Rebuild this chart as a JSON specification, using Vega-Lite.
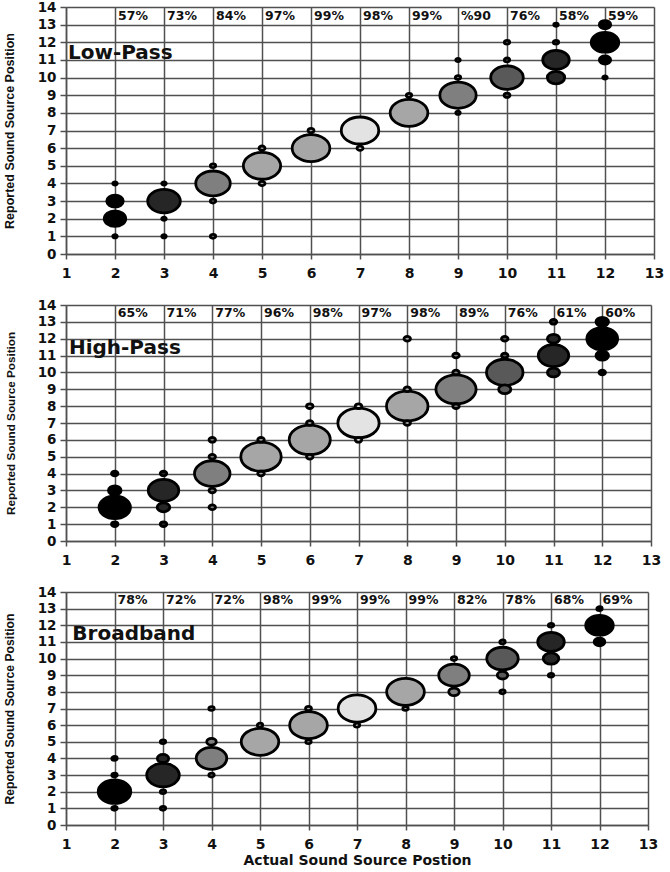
{
  "$schema": "https://vega.github.io/schema/vega-lite/v6.json",
  "background": "white",
  "padding": {"left": 3, "top": 0, "right": 5, "bottom": 0},
  "spacing": 18,
  "datasets": {
    "bubbles": [
      {"panel": "Low-Pass", "actual": 2, "reported": 4, "pct": 1.4},
      {"panel": "Low-Pass", "actual": 2, "reported": 3, "pct": 19},
      {"panel": "Low-Pass", "actual": 2, "reported": 2, "pct": 32},
      {"panel": "Low-Pass", "actual": 2, "reported": 1, "pct": 1.4},
      {"panel": "Low-Pass", "actual": 3, "reported": 4, "pct": 1.4},
      {"panel": "Low-Pass", "actual": 3, "reported": 3, "pct": 74},
      {"panel": "Low-Pass", "actual": 3, "reported": 2, "pct": 1.4},
      {"panel": "Low-Pass", "actual": 3, "reported": 1, "pct": 1.4},
      {"panel": "Low-Pass", "actual": 4, "reported": 5, "pct": 2},
      {"panel": "Low-Pass", "actual": 4, "reported": 4, "pct": 83},
      {"panel": "Low-Pass", "actual": 4, "reported": 3, "pct": 2},
      {"panel": "Low-Pass", "actual": 4, "reported": 1, "pct": 2},
      {"panel": "Low-Pass", "actual": 5, "reported": 6, "pct": 2.5},
      {"panel": "Low-Pass", "actual": 5, "reported": 5, "pct": 97},
      {"panel": "Low-Pass", "actual": 5, "reported": 4, "pct": 2.5},
      {"panel": "Low-Pass", "actual": 6, "reported": 7, "pct": 2.5},
      {"panel": "Low-Pass", "actual": 6, "reported": 6, "pct": 99},
      {"panel": "Low-Pass", "actual": 7, "reported": 7, "pct": 98},
      {"panel": "Low-Pass", "actual": 7, "reported": 6, "pct": 2.5},
      {"panel": "Low-Pass", "actual": 8, "reported": 9, "pct": 2},
      {"panel": "Low-Pass", "actual": 8, "reported": 8, "pct": 99},
      {"panel": "Low-Pass", "actual": 9, "reported": 11, "pct": 1.4},
      {"panel": "Low-Pass", "actual": 9, "reported": 10, "pct": 2},
      {"panel": "Low-Pass", "actual": 9, "reported": 9, "pct": 92},
      {"panel": "Low-Pass", "actual": 9, "reported": 8, "pct": 1.4},
      {"panel": "Low-Pass", "actual": 10, "reported": 12, "pct": 2},
      {"panel": "Low-Pass", "actual": 10, "reported": 11, "pct": 2},
      {"panel": "Low-Pass", "actual": 10, "reported": 10, "pct": 74},
      {"panel": "Low-Pass", "actual": 10, "reported": 9, "pct": 2.5},
      {"panel": "Low-Pass", "actual": 11, "reported": 13, "pct": 1.4},
      {"panel": "Low-Pass", "actual": 11, "reported": 12, "pct": 2},
      {"panel": "Low-Pass", "actual": 11, "reported": 11, "pct": 49},
      {"panel": "Low-Pass", "actual": 11, "reported": 10, "pct": 21},
      {"panel": "Low-Pass", "actual": 12, "reported": 13, "pct": 9},
      {"panel": "Low-Pass", "actual": 12, "reported": 12, "pct": 53},
      {"panel": "Low-Pass", "actual": 12, "reported": 11, "pct": 9},
      {"panel": "Low-Pass", "actual": 12, "reported": 10, "pct": 1.4},

      {"panel": "High-Pass", "actual": 2, "reported": 4, "pct": 2.4},
      {"panel": "High-Pass", "actual": 2, "reported": 3, "pct": 9},
      {"panel": "High-Pass", "actual": 2, "reported": 2, "pct": 56},
      {"panel": "High-Pass", "actual": 2, "reported": 1, "pct": 2.4},
      {"panel": "High-Pass", "actual": 3, "reported": 4, "pct": 2.4},
      {"panel": "High-Pass", "actual": 3, "reported": 3, "pct": 53},
      {"panel": "High-Pass", "actual": 3, "reported": 2, "pct": 9},
      {"panel": "High-Pass", "actual": 3, "reported": 1, "pct": 2.4},
      {"panel": "High-Pass", "actual": 4, "reported": 6, "pct": 2.4},
      {"panel": "High-Pass", "actual": 4, "reported": 5, "pct": 2.4},
      {"panel": "High-Pass", "actual": 4, "reported": 4, "pct": 72},
      {"panel": "High-Pass", "actual": 4, "reported": 3, "pct": 2.4},
      {"panel": "High-Pass", "actual": 4, "reported": 2, "pct": 2.4},
      {"panel": "High-Pass", "actual": 5, "reported": 6, "pct": 2.4},
      {"panel": "High-Pass", "actual": 5, "reported": 5, "pct": 93},
      {"panel": "High-Pass", "actual": 5, "reported": 4, "pct": 2.4},
      {"panel": "High-Pass", "actual": 6, "reported": 8, "pct": 2.4},
      {"panel": "High-Pass", "actual": 6, "reported": 7, "pct": 2.4},
      {"panel": "High-Pass", "actual": 6, "reported": 6, "pct": 96},
      {"panel": "High-Pass", "actual": 6, "reported": 5, "pct": 2.4},
      {"panel": "High-Pass", "actual": 7, "reported": 8, "pct": 2.4},
      {"panel": "High-Pass", "actual": 7, "reported": 7, "pct": 97},
      {"panel": "High-Pass", "actual": 7, "reported": 6, "pct": 2.4},
      {"panel": "High-Pass", "actual": 8, "reported": 12, "pct": 2.4},
      {"panel": "High-Pass", "actual": 8, "reported": 9, "pct": 2.4},
      {"panel": "High-Pass", "actual": 8, "reported": 8, "pct": 98},
      {"panel": "High-Pass", "actual": 8, "reported": 7, "pct": 2.4},
      {"panel": "High-Pass", "actual": 9, "reported": 11, "pct": 2.4},
      {"panel": "High-Pass", "actual": 9, "reported": 10, "pct": 2.4},
      {"panel": "High-Pass", "actual": 9, "reported": 9, "pct": 92},
      {"panel": "High-Pass", "actual": 9, "reported": 8, "pct": 2.4},
      {"panel": "High-Pass", "actual": 10, "reported": 12, "pct": 2.4},
      {"panel": "High-Pass", "actual": 10, "reported": 11, "pct": 2.4},
      {"panel": "High-Pass", "actual": 10, "reported": 10, "pct": 76},
      {"panel": "High-Pass", "actual": 10, "reported": 9, "pct": 8.5},
      {"panel": "High-Pass", "actual": 11, "reported": 13, "pct": 2.4},
      {"panel": "High-Pass", "actual": 11, "reported": 12, "pct": 8.5},
      {"panel": "High-Pass", "actual": 11, "reported": 11, "pct": 53},
      {"panel": "High-Pass", "actual": 11, "reported": 10, "pct": 8.5},
      {"panel": "High-Pass", "actual": 12, "reported": 13, "pct": 9},
      {"panel": "High-Pass", "actual": 12, "reported": 12, "pct": 54},
      {"panel": "High-Pass", "actual": 12, "reported": 11, "pct": 9},
      {"panel": "High-Pass", "actual": 12, "reported": 10, "pct": 2.4},

      {"panel": "Broadband", "actual": 2, "reported": 4, "pct": 2},
      {"panel": "Broadband", "actual": 2, "reported": 3, "pct": 2},
      {"panel": "Broadband", "actual": 2, "reported": 2, "pct": 74},
      {"panel": "Broadband", "actual": 2, "reported": 1, "pct": 2},
      {"panel": "Broadband", "actual": 3, "reported": 5, "pct": 2},
      {"panel": "Broadband", "actual": 3, "reported": 4, "pct": 9},
      {"panel": "Broadband", "actual": 3, "reported": 3, "pct": 74},
      {"panel": "Broadband", "actual": 3, "reported": 2, "pct": 2},
      {"panel": "Broadband", "actual": 3, "reported": 1, "pct": 2},
      {"panel": "Broadband", "actual": 4, "reported": 7, "pct": 2},
      {"panel": "Broadband", "actual": 4, "reported": 5, "pct": 6.3},
      {"panel": "Broadband", "actual": 4, "reported": 4, "pct": 65},
      {"panel": "Broadband", "actual": 4, "reported": 3, "pct": 2},
      {"panel": "Broadband", "actual": 5, "reported": 6, "pct": 2},
      {"panel": "Broadband", "actual": 5, "reported": 5, "pct": 98},
      {"panel": "Broadband", "actual": 6, "reported": 7, "pct": 2.5},
      {"panel": "Broadband", "actual": 6, "reported": 6, "pct": 99},
      {"panel": "Broadband", "actual": 6, "reported": 5, "pct": 2},
      {"panel": "Broadband", "actual": 7, "reported": 7, "pct": 99},
      {"panel": "Broadband", "actual": 7, "reported": 6, "pct": 2},
      {"panel": "Broadband", "actual": 8, "reported": 8, "pct": 99},
      {"panel": "Broadband", "actual": 8, "reported": 7, "pct": 2},
      {"panel": "Broadband", "actual": 9, "reported": 10, "pct": 2},
      {"panel": "Broadband", "actual": 9, "reported": 9, "pct": 65},
      {"panel": "Broadband", "actual": 9, "reported": 8, "pct": 7.7},
      {"panel": "Broadband", "actual": 10, "reported": 11, "pct": 2},
      {"panel": "Broadband", "actual": 10, "reported": 10, "pct": 69},
      {"panel": "Broadband", "actual": 10, "reported": 9, "pct": 7.7},
      {"panel": "Broadband", "actual": 10, "reported": 8, "pct": 2},
      {"panel": "Broadband", "actual": 11, "reported": 12, "pct": 2},
      {"panel": "Broadband", "actual": 11, "reported": 11, "pct": 49},
      {"panel": "Broadband", "actual": 11, "reported": 10, "pct": 17},
      {"panel": "Broadband", "actual": 11, "reported": 9, "pct": 2},
      {"panel": "Broadband", "actual": 12, "reported": 13, "pct": 2},
      {"panel": "Broadband", "actual": 12, "reported": 12, "pct": 53},
      {"panel": "Broadband", "actual": 12, "reported": 11, "pct": 8}
    ],
    "labels": [
      {"panel": "Low-Pass", "actual": 2, "label": "57%"},
      {"panel": "Low-Pass", "actual": 3, "label": "73%"},
      {"panel": "Low-Pass", "actual": 4, "label": "84%"},
      {"panel": "Low-Pass", "actual": 5, "label": "97%"},
      {"panel": "Low-Pass", "actual": 6, "label": "99%"},
      {"panel": "Low-Pass", "actual": 7, "label": "98%"},
      {"panel": "Low-Pass", "actual": 8, "label": "99%"},
      {"panel": "Low-Pass", "actual": 9, "label": "%90"},
      {"panel": "Low-Pass", "actual": 10, "label": "76%"},
      {"panel": "Low-Pass", "actual": 11, "label": "58%"},
      {"panel": "Low-Pass", "actual": 12, "label": "59%"},
      {"panel": "High-Pass", "actual": 2, "label": "65%"},
      {"panel": "High-Pass", "actual": 3, "label": "71%"},
      {"panel": "High-Pass", "actual": 4, "label": "77%"},
      {"panel": "High-Pass", "actual": 5, "label": "96%"},
      {"panel": "High-Pass", "actual": 6, "label": "98%"},
      {"panel": "High-Pass", "actual": 7, "label": "97%"},
      {"panel": "High-Pass", "actual": 8, "label": "98%"},
      {"panel": "High-Pass", "actual": 9, "label": "89%"},
      {"panel": "High-Pass", "actual": 10, "label": "76%"},
      {"panel": "High-Pass", "actual": 11, "label": "61%"},
      {"panel": "High-Pass", "actual": 12, "label": "60%"},
      {"panel": "Broadband", "actual": 2, "label": "78%"},
      {"panel": "Broadband", "actual": 3, "label": "72%"},
      {"panel": "Broadband", "actual": 4, "label": "72%"},
      {"panel": "Broadband", "actual": 5, "label": "98%"},
      {"panel": "Broadband", "actual": 6, "label": "99%"},
      {"panel": "Broadband", "actual": 7, "label": "99%"},
      {"panel": "Broadband", "actual": 8, "label": "99%"},
      {"panel": "Broadband", "actual": 9, "label": "82%"},
      {"panel": "Broadband", "actual": 10, "label": "78%"},
      {"panel": "Broadband", "actual": 11, "label": "68%"},
      {"panel": "Broadband", "actual": 12, "label": "69%"}
    ]
  },
  "config": {
    "view": {"stroke": null},
    "axis": {
      "grid": true,
      "gridColor": "#505050",
      "gridWidth": 1.5,
      "gridOpacity": 1,
      "domainColor": "#505050",
      "domainWidth": 1.5,
      "tickColor": "#505050",
      "tickWidth": 1.5,
      "labelFont": "DejaVu Sans",
      "labelFontWeight": "bold",
      "labelColor": "#111111",
      "labelFlush": false,
      "labelOverlap": false
    },
    "axisX": {"tickSize": 5, "labelPadding": 7, "labelFontSize": 14},
    "axisY": {"tickSize": 6, "labelPadding": 4, "labelFontSize": 13.5}
  },
  "resolve": {"scale": {"x": "independent", "y": "independent", "size": "independent", "fill": "independent"}},
  "vconcat": [
    {
      "width": 588,
      "height": 247,
      "layer": [
        {
          "data": {"name": "bubbles"},
          "transform": [{"filter": "datum.panel === 'Low-Pass'"}],
          "mark": {"type": "point", "shape": "M -1 0 A 1 0.72 0 1 1 1 0 A 1 0.72 0 1 1 -1 0 Z", "filled": true, "stroke": "#000000", "strokeWidth": 2.8, "opacity": 1},
          "encoding": {
            "x": {"field": "actual", "type": "quantitative", "scale": {"domain": [1, 13], "nice": false, "zero": false}, "axis": {"values": [1,2,3,4,5,6,7,8,9,10,11,12,13], "title": null}},
            "y": {"field": "reported", "type": "quantitative", "scale": {"domain": [0, 14], "nice": false}, "axis": {"values": [0,1,2,3,4,5,6,7,8,9,10,11,12,13,14], "title": "Reported Sound Source Position", "titleFont": "Liberation Sans", "titleFontWeight": "bold", "titleFontSize": 12.5, "titlePadding": 21, "titleColor": "#111111"}},
            "size": {"field": "pct", "type": "quantitative", "scale": {"domain": [0, 100], "range": [0, 1435]}, "legend": null},
            "fill": {"field": "actual", "type": "ordinal", "scale": {"domain": [2,3,4,5,6,7,8,9,10,11,12], "range": ["#000000","#262626","#7f7f7f","#a6a6a6","#a6a6a6","#e3e3e3","#a6a6a6","#7f7f7f","#595959","#262626","#000000"]}, "legend": null},
            "order": {"field": "pct", "sort": "descending"}
          }
        },
        {
          "data": {"name": "labels"},
          "transform": [{"filter": "datum.panel === 'Low-Pass'"}],
          "mark": {"type": "text", "align": "left", "baseline": "middle", "dx": 3, "font": "DejaVu Sans", "fontWeight": "bold", "fontSize": 12.5, "color": "#111111"},
          "encoding": {
            "x": {"field": "actual", "type": "quantitative", "axis": {"values": [1,2,3,4,5,6,7,8,9,10,11,12,13], "title": null}},
            "y": {"datum": 13.5, "type": "quantitative", "axis": {"values": [0,1,2,3,4,5,6,7,8,9,10,11,12,13,14], "title": "Reported Sound Source Position", "titleFont": "Liberation Sans", "titleFontWeight": "bold", "titleFontSize": 12.5, "titlePadding": 21, "titleColor": "#111111"}},
            "text": {"field": "label"}
          }
        },
        {
          "data": {"values": [{"name": "Low-Pass"}]},
          "mark": {"type": "text", "align": "left", "baseline": "middle", "font": "DejaVu Sans", "fontWeight": "bold", "fontSize": 20, "color": "#111111"},
          "encoding": {
            "x": {"datum": 1.04, "type": "quantitative", "axis": {"values": [1,2,3,4,5,6,7,8,9,10,11,12,13], "title": null}},
            "y": {"datum": 11.4, "type": "quantitative", "axis": {"values": [0,1,2,3,4,5,6,7,8,9,10,11,12,13,14], "title": "Reported Sound Source Position", "titleFont": "Liberation Sans", "titleFontWeight": "bold", "titleFontSize": 12.5, "titlePadding": 21, "titleColor": "#111111"}},
            "text": {"field": "name"}
          }
        }
      ]
    },
    {
      "width": 585,
      "height": 236,
      "layer": [
        {
          "data": {"name": "bubbles"},
          "transform": [{"filter": "datum.panel === 'High-Pass'"}],
          "mark": {"type": "point", "shape": "M -1 0 A 1 0.72 0 1 1 1 0 A 1 0.72 0 1 1 -1 0 Z", "filled": true, "stroke": "#000000", "strokeWidth": 2.8, "opacity": 1},
          "encoding": {
            "x": {"field": "actual", "type": "quantitative", "scale": {"domain": [1, 13], "nice": false, "zero": false}, "axis": {"values": [1,2,3,4,5,6,7,8,9,10,11,12,13], "title": null}},
            "y": {"field": "reported", "type": "quantitative", "scale": {"domain": [0, 14], "nice": false}, "axis": {"values": [0,1,2,3,4,5,6,7,8,9,10,11,12,13,14], "title": "Reported Sound Source Position", "titleFont": "Liberation Sans", "titleFontWeight": "bold", "titleFontSize": 11.7, "titlePadding": 21, "titleColor": "#111111"}},
            "size": {"field": "pct", "type": "quantitative", "scale": {"domain": [0, 100], "range": [0, 1757]}, "legend": null},
            "fill": {"field": "actual", "type": "ordinal", "scale": {"domain": [2,3,4,5,6,7,8,9,10,11,12], "range": ["#000000","#262626","#7f7f7f","#a6a6a6","#a6a6a6","#e3e3e3","#a6a6a6","#7f7f7f","#595959","#262626","#000000"]}, "legend": null},
            "order": {"field": "pct", "sort": "descending"}
          }
        },
        {
          "data": {"name": "labels"},
          "transform": [{"filter": "datum.panel === 'High-Pass'"}],
          "mark": {"type": "text", "align": "left", "baseline": "middle", "dx": 3, "font": "DejaVu Sans", "fontWeight": "bold", "fontSize": 12.5, "color": "#111111"},
          "encoding": {
            "x": {"field": "actual", "type": "quantitative", "axis": {"values": [1,2,3,4,5,6,7,8,9,10,11,12,13], "title": null}},
            "y": {"datum": 13.5, "type": "quantitative", "axis": {"values": [0,1,2,3,4,5,6,7,8,9,10,11,12,13,14], "title": "Reported Sound Source Position", "titleFont": "Liberation Sans", "titleFontWeight": "bold", "titleFontSize": 11.7, "titlePadding": 21, "titleColor": "#111111"}},
            "text": {"field": "label"}
          }
        },
        {
          "data": {"values": [{"name": "High-Pass"}]},
          "mark": {"type": "text", "align": "left", "baseline": "middle", "font": "DejaVu Sans", "fontWeight": "bold", "fontSize": 20, "color": "#111111"},
          "encoding": {
            "x": {"datum": 1.06, "type": "quantitative", "axis": {"values": [1,2,3,4,5,6,7,8,9,10,11,12,13], "title": null}},
            "y": {"datum": 11.45, "type": "quantitative", "axis": {"values": [0,1,2,3,4,5,6,7,8,9,10,11,12,13,14], "title": "Reported Sound Source Position", "titleFont": "Liberation Sans", "titleFontWeight": "bold", "titleFontSize": 11.7, "titlePadding": 21, "titleColor": "#111111"}},
            "text": {"field": "name"}
          }
        }
      ]
    },
    {
      "width": 582,
      "height": 233,
      "layer": [
        {
          "data": {"name": "bubbles"},
          "transform": [{"filter": "datum.panel === 'Broadband'"}],
          "mark": {"type": "point", "shape": "M -1 0 A 1 0.72 0 1 1 1 0 A 1 0.72 0 1 1 -1 0 Z", "filled": true, "stroke": "#000000", "strokeWidth": 2.8, "opacity": 1},
          "encoding": {
            "x": {"field": "actual", "type": "quantitative", "scale": {"domain": [1, 13], "nice": false, "zero": false}, "axis": {"values": [1,2,3,4,5,6,7,8,9,10,11,12,13], "title": "Actual Sound Source Postion", "titleFont": "DejaVu Sans", "titleFontWeight": "bold", "titleFontSize": 14, "titlePadding": 2, "titleColor": "#111111"}},
            "y": {"field": "reported", "type": "quantitative", "scale": {"domain": [0, 14], "nice": false}, "axis": {"values": [0,1,2,3,4,5,6,7,8,9,10,11,12,13,14], "title": "Reported Sound Source Position", "titleFont": "Liberation Sans", "titleFontWeight": "bold", "titleFontSize": 12.2, "titlePadding": 21, "titleColor": "#111111"}},
            "size": {"field": "pct", "type": "quantitative", "scale": {"domain": [0, 100], "range": [0, 1435]}, "legend": null},
            "fill": {"field": "actual", "type": "ordinal", "scale": {"domain": [2,3,4,5,6,7,8,9,10,11,12], "range": ["#000000","#262626","#7f7f7f","#a6a6a6","#a6a6a6","#e3e3e3","#a6a6a6","#7f7f7f","#595959","#262626","#000000"]}, "legend": null},
            "order": {"field": "pct", "sort": "descending"}
          }
        },
        {
          "data": {"name": "labels"},
          "transform": [{"filter": "datum.panel === 'Broadband'"}],
          "mark": {"type": "text", "align": "left", "baseline": "middle", "dx": 3, "font": "DejaVu Sans", "fontWeight": "bold", "fontSize": 12.5, "color": "#111111"},
          "encoding": {
            "x": {"field": "actual", "type": "quantitative", "axis": {"values": [1,2,3,4,5,6,7,8,9,10,11,12,13], "title": "Actual Sound Source Postion", "titleFont": "DejaVu Sans", "titleFontWeight": "bold", "titleFontSize": 14, "titlePadding": 2, "titleColor": "#111111"}},
            "y": {"datum": 13.5, "type": "quantitative", "axis": {"values": [0,1,2,3,4,5,6,7,8,9,10,11,12,13,14], "title": "Reported Sound Source Position", "titleFont": "Liberation Sans", "titleFontWeight": "bold", "titleFontSize": 12.2, "titlePadding": 21, "titleColor": "#111111"}},
            "text": {"field": "label"}
          }
        },
        {
          "data": {"values": [{"name": "Broadband"}]},
          "mark": {"type": "text", "align": "left", "baseline": "middle", "font": "DejaVu Sans", "fontWeight": "bold", "fontSize": 20, "color": "#111111"},
          "encoding": {
            "x": {"datum": 1.13, "type": "quantitative", "axis": {"values": [1,2,3,4,5,6,7,8,9,10,11,12,13], "title": "Actual Sound Source Postion", "titleFont": "DejaVu Sans", "titleFontWeight": "bold", "titleFontSize": 14, "titlePadding": 2, "titleColor": "#111111"}},
            "y": {"datum": 11.45, "type": "quantitative", "axis": {"values": [0,1,2,3,4,5,6,7,8,9,10,11,12,13,14], "title": "Reported Sound Source Position", "titleFont": "Liberation Sans", "titleFontWeight": "bold", "titleFontSize": 12.2, "titlePadding": 21, "titleColor": "#111111"}},
            "text": {"field": "name"}
          }
        }
      ]
    }
  ]
}
